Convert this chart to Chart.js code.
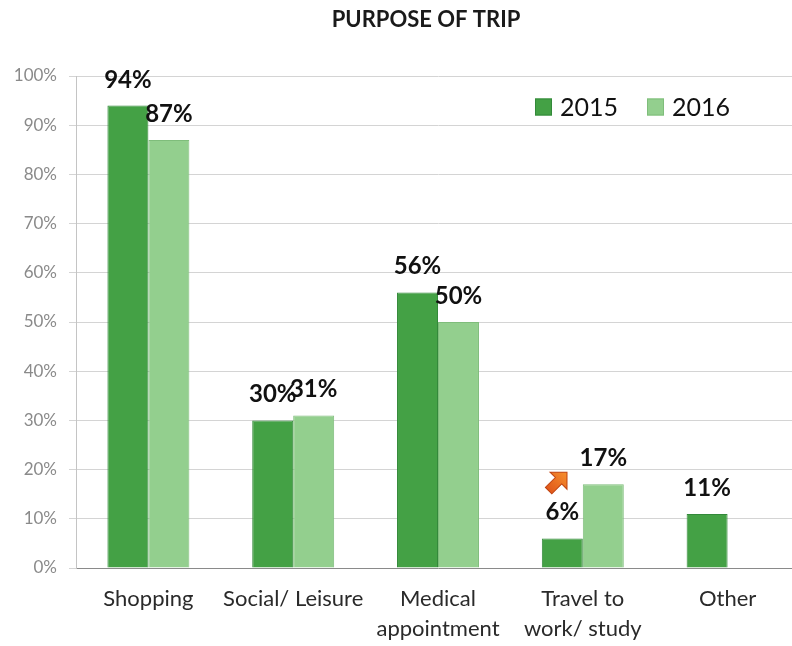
<!DOCTYPE html>
<html>
<head>
<meta charset="utf-8">
<script src="https://cdn.jsdelivr.net/npm/chart.js@4"></script>
<style>
  html, body { margin: 0; padding: 0; background: #fff; overflow: hidden; }
  #wrap { width: 852px; height: 646px; }
</style>
</head>
<body>
<div id="wrap"><canvas id="tripChart"></canvas></div>
<script>
// purpose of trip, share of respondents (%)
const categories = ['Shopping', 'Social/ Leisure', ['Medical', 'appointment'], ['Travel to', 'work/ study'], 'Other'];
const share2015 = [94, 30, 56, 6, 11];
const share2016 = [87, 31, 50, 17, null];
const seriesNames = ['2015', '2016'];
const chartTitle = 'PURPOSE OF TRIP';

const FONT = 'Lato, "DejaVu Sans", sans-serif';

// title centred on the whole canvas
const topTitle = {
    id: 'topTitle',
    afterDraw(chart) {
        const ctx = chart.ctx;
        ctx.save();
        ctx.font = 'bold 22px ' + FONT;
        ctx.fillStyle = '#1a1a1a';
        ctx.textAlign = 'center';
        ctx.textBaseline = 'middle';
        ctx.fillText(chartTitle, chart.width / 2, 20);
        ctx.restore();
    }
};

// value labels sitting above each bar
const valueLabels = {
    id: 'valueLabels',
    afterDatasetsDraw(chart) {
        const ctx = chart.ctx;
        ctx.save();
        ctx.font = 'bold 24px ' + FONT;
        ctx.fillStyle = '#111';
        ctx.textAlign = 'center';
        ctx.textBaseline = 'alphabetic';
        chart.data.datasets.forEach((ds, i) => {
            chart.getDatasetMeta(i).data.forEach((bar, j) => {
                const v = ds.data[j];
                if (v == null) return;
                ctx.fillText(v + '%', bar.x, bar.y - 18);
            });
        });
        ctx.restore();
    }
};

// small orange arrow next to the rise in travel to work/ study
const riseArrow = {
    id: 'riseArrow',
    afterDatasetsDraw(chart) {
        const ctx = chart.ctx;
        const x = chart.scales.x.getPixelForValue(3) - 25;
        const y = chart.scales.y.getPixelForValue(17.6);
        ctx.save();
        ctx.translate(x, y);
        ctx.rotate(-Math.PI / 4);
        const g = ctx.createLinearGradient(-14, 0, 14, 0);
        g.addColorStop(0, '#e0561a');
        g.addColorStop(1, '#f7922e');
        ctx.fillStyle = g;
        ctx.strokeStyle = '#c0420f';
        ctx.lineWidth = 1;
        ctx.beginPath();
        ctx.moveTo(-13, -4.5);
        ctx.lineTo(1, -4.5);
        ctx.lineTo(1, -12);
        ctx.lineTo(13, 0);
        ctx.lineTo(1, 12);
        ctx.lineTo(1, 4.5);
        ctx.lineTo(-13, 4.5);
        ctx.closePath();
        ctx.fill();
        ctx.stroke();
        ctx.restore();
    }
};

// legend drawn inside the plot, top right
const innerLegend = {
    id: 'innerLegend',
    afterDraw(chart) {
        const ctx = chart.ctx;
        const area = chart.chartArea;
        let x = area.right - 265;
        const cy = area.top + 31;
        ctx.save();
        ctx.font = '25px ' + FONT;
        ctx.textBaseline = 'middle';
        ctx.textAlign = 'left';
        chart.data.datasets.forEach(ds => {
            ctx.fillStyle = ds.backgroundColor;
            ctx.fillRect(x, cy - 8.5, 17, 17);
            ctx.strokeStyle = ds.borderColor;
            ctx.lineWidth = 1;
            ctx.strokeRect(x + 0.5, cy - 8, 16, 16);
            ctx.fillStyle = '#111';
            ctx.fillText(ds.label, x + 25, cy + 1);
            x += 25 + ctx.measureText(ds.label).width + 29;
        });
        ctx.restore();
    }
};

new Chart(document.getElementById('tripChart'), {
    type: 'bar',
    data: {
        labels: categories,
        datasets: [
            {
                label: seriesNames[0],
                data: share2015,
                backgroundColor: '#44a145',
                borderColor: '#33893a',
                borderWidth: 1
            },
            {
                label: seriesNames[1],
                data: share2016,
                backgroundColor: '#93cf8e',
                borderColor: '#7fbd7b',
                borderWidth: 1
            }
        ]
    },
    options: {
        responsive: true,
        maintainAspectRatio: false,
        animation: false,
        layout: { padding: { left: 0, right: 52, top: 76, bottom: 0 } },
        datasets: {
            bar: { categoryPercentage: 0.566, barPercentage: 1.0 }
        },
        plugins: {
            legend: { display: false },
            tooltip: { enabled: false },
            title: { display: false }
        },
        scales: {
            x: {
                grid: { display: false, drawTicks: false },
                border: { color: '#8a8a8a', width: 1 },
                ticks: {
                    color: '#2a2a2a',
                    padding: 16,
                    maxRotation: 0,
                    autoSkip: false,
                    font: { family: FONT, size: 22, lineHeight: 1.35 }
                },
                afterFit(scale) { scale.height = 78; }
            },
            y: {
                min: 0,
                max: 100,
                grid: { color: '#d4d4d4', lineWidth: 1, tickLength: 7 },
                border: { color: '#c4c4c4', width: 1 },
                ticks: {
                    stepSize: 10,
                    color: '#8a8a8a',
                    padding: 12,
                    font: { family: FONT, size: 17 },
                    callback: v => v + '%'
                },
                afterFit(scale) { scale.width = 76; }
            }
        }
    },
    plugins: [topTitle, valueLabels, riseArrow, innerLegend]
});
</script>
</body>
</html>
